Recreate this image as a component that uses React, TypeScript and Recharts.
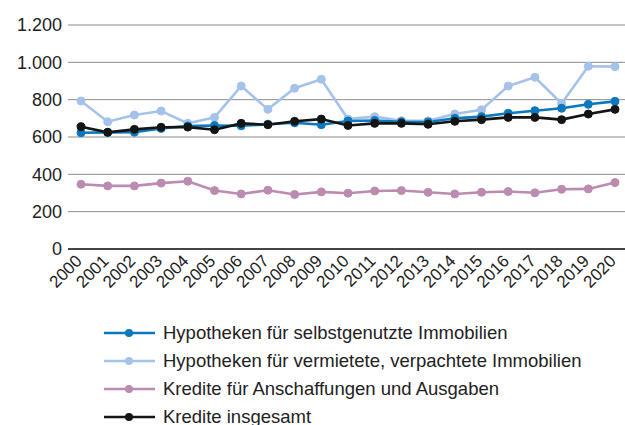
import React from "react";
import { LineChart, Line, XAxis, YAxis, CartesianGrid } from "recharts";

const years = ["2000","2001","2002","2003","2004","2005","2006","2007","2008","2009","2010","2011","2012","2013","2014","2015","2016","2017","2018","2019","2020"];
const selbstgenutzt = [623,625,626,646,659,662,660,668,676,666,686,688,682,680,700,709,727,741,754,775,791];
const vermietet = [793,682,718,739,673,705,873,748,861,909,696,709,687,687,723,746,873,920,780,979,977];
const anschaffungen = [347,338,338,353,363,313,295,315,292,306,299,311,313,304,295,304,308,301,320,322,356];
const insgesamt = [655,625,641,652,653,639,673,666,684,696,662,673,673,668,684,693,705,705,693,723,748];
const yTicks = [0,200,400,600,800,1000,1200];

const series = [
  { key: "vermietet", name: "Hypotheken für vermietete, verpachtete Immobilien", color: "#a5c2ea", values: vermietet },
  { key: "anschaffungen", name: "Kredite für Anschaffungen und Ausgaben", color: "#bb8bb0", values: anschaffungen },
  { key: "selbstgenutzt", name: "Hypotheken für selbstgenutzte Immobilien", color: "#0b78bd", values: selbstgenutzt },
  { key: "insgesamt", name: "Kredite insgesamt", color: "#141414", values: insgesamt },
];
const legendOrder = ["selbstgenutzt", "vermietet", "anschaffungen", "insgesamt"];

const data = years.map((y, i) => {
  const row: any = { year: y };
  series.forEach((s) => { row[s.key] = s.values[i]; });
  return row;
});

const FONT = "'Liberation Sans', Arial, sans-serif";

const fmt = (v: number) => (v >= 1000 ? `${Math.floor(v / 1000)}.${String(v % 1000).padStart(3, "0")}` : `${v}`);

const XTick = (props: any) => {
  const { x, y, payload } = props;
  const ax = x + 2;
  const ay = y + 5;
  return (
    <text x={ax} y={ay} transform={`rotate(-45, ${ax}, ${ay})`} textAnchor="end" fontSize={17} fill="#222" fontFamily={FONT}>
      {payload.value}
    </text>
  );
};

export default function App() {
  return (
    <div style={{ position: "absolute", left: 0, top: 0, width: 625, height: 425, background: "#fff", fontFamily: FONT, overflow: "hidden" }}>
      <LineChart width={625} height={425} data={data} margin={{ top: 25, right: -3, bottom: 0, left: 0 }}>
        <CartesianGrid vertical={false} stroke="#8c8c8c" strokeWidth={1} />
        <XAxis
          dataKey="year"
          height={176}
          padding={{ left: 13, right: 13 }}
          axisLine={{ stroke: "#444", strokeWidth: 2 }}
          tickLine={false}
          interval={0}
          tick={<XTick />}
        />
        <YAxis
          domain={[0, 1200]}
          ticks={yTicks}
          width={68}
          axisLine={false}
          tickLine={false}
          tickSize={6}
          tickMargin={0}
          tickFormatter={fmt}
          tick={{ fontSize: 18, fill: "#222", fontFamily: FONT }}
        />
        {series.map((s) => (
          <Line
            key={s.key}
            dataKey={s.key}
            name={s.name}
            stroke={s.color}
            strokeWidth={2.6}
            dot={{ r: 4, fill: s.color, stroke: s.color, strokeWidth: 1 }}
            isAnimationActive={false}
          />
        ))}
      </LineChart>
      {legendOrder.map((k, i) => {
        const s = series.find((x) => x.key === k)!;
        return (
          <div key={k} style={{ position: "absolute", left: 104, top: 333 + i * 27.9 - 14, height: 28, display: "flex", alignItems: "center" }}>
            <svg width={52} height={12} style={{ display: "block" }}>
              <line x1={0} y1={6} x2={51} y2={6} stroke={s.color} strokeWidth={2.6} />
              <circle cx={25} cy={6} r={4} fill={s.color} />
            </svg>
            <span style={{ marginLeft: 7, fontSize: 18.5, color: "#222", whiteSpace: "nowrap", lineHeight: "28px" }}>{s.name}</span>
          </div>
        );
      })}
    </div>
  );
}
